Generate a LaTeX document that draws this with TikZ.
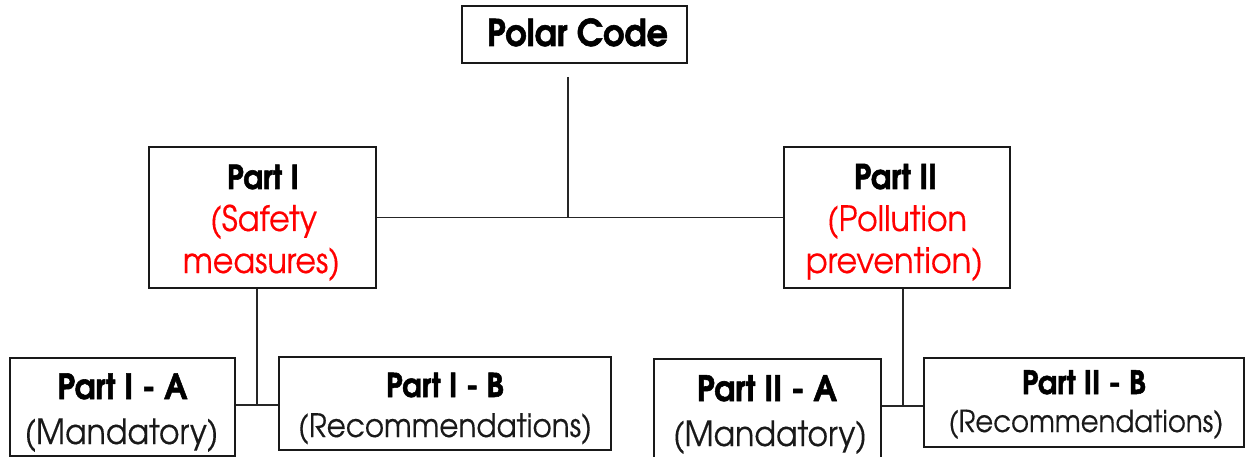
\documentclass[tikz,border=0pt]{standalone}
\usepackage{fontspec}
\setmainfont{texgyreadventor}[Extension=.otf,UprightFont=*-regular,BoldFont=*-bold,ItalicFont=*-italic,BoldItalicFont=*-bolditalic,UprightFeatures={FakeBold=0.4},BoldFeatures={FakeBold=1.6}]
\usepackage{graphicx}
\newcommand\fitto[2]{\resizebox{#1pt}{!}{#2}}
\newcommand\fitup[2]{\scalebox{1}[1.1]{\resizebox{#1pt}{!}{#2}}}
\begin{document}
\begin{tikzpicture}[x=1pt,y=-1pt,
  box/.style={draw=black!90, line width=1.5pt, inner sep=0pt},
  conn/.style={draw=black!85, line width=1.3pt},
  txt/.style={anchor=base, inner sep=0pt},
  hdr/.style={txt, font=\bfseries, text=black},
  sub/.style={txt, text=black!90},
  redsub/.style={txt, text=red}]
\useasboundingbox (0,0) rectangle (1251,457);
% boxes
\node[box, minimum width=225pt, minimum height=57pt]  (polar) at (574.5,34.5) {};
\node[box, minimum width=227pt, minimum height=141pt] (p1)    at (262.5,217.5) {};
\node[box, minimum width=226pt, minimum height=141pt] (p2)    at (897,217.5) {};
\node[box, minimum width=225pt, minimum height=98pt]  (p1a)   at (122.5,407) {};
\node[box, minimum width=332pt, minimum height=93pt]  (p1b)   at (445,403.5) {};
\node[box, minimum width=227pt, minimum height=103pt] (p2a)   at (767.5,410.5) {};
\node[box, minimum width=320pt, minimum height=89pt]  (p2b)   at (1084,402.5) {};
% texts
\node[hdr] (tpolar) at (577.5,46) {\fitup{181}{Polar Code}};
\node[hdr] (tp1) at (263,189) {\fitup{72}{Part I}};
\node[redsub] (tp1b) at (263.5,231) {\fitup{107}{(Safety}};
\node[redsub] (tp1c) at (261.5,273) {\fitup{157}{measures)}};
\node[hdr] (tp2) at (895.5,189) {\fitup{83}{Part II}};
\node[redsub] (tp2b) at (897,231) {\fitup{140}{(Pollution}};
\node[redsub] (tp2c) at (894.5,273) {\fitup{177}{prevention)}};
\node[hdr] (tp1a) at (122.5,399) {\fitup{130}{Part I - A}};
\node[sub] (tp1aa) at (121.5,444) {\fitup{194}{(Mandatory)}};
\node[hdr] (tp1bh) at (445,397) {\fitup{118}{Part I - B}};
\node[sub] (tp1bb) at (445,437) {\fitup{294}{(Recommendations)}};
\node[hdr] (tp2a) at (767,401) {\fitup{140}{Part II - A}};
\node[sub] (tp2aa) at (770,446) {\fitup{194}{(Mandatory)}};
\node[hdr] (tp2bh) at (1084,394) {\fitup{124}{Part II - B}};
\node[sub] (tp2bb) at (1086,432) {\fitup{275}{(Recommendations)}};
% connectors
\coordinate (pstub) at (568,77);
\coordinate (pj) at (568,217.5);
\coordinate (j1) at (257,405);
\coordinate (j2) at (903,406);
\draw[conn] (pstub) -- (pj);
\draw[conn] (p1.east) -- (p2.west);
\draw[conn] (p1.south -| j1) -- (j1);
\draw[conn] (p1a.east |- j1) -- (p1b.west |- j1);
\draw[conn] (p2.south -| j2) -- (j2);
\draw[conn] (p2a.east |- j2) -- (p2b.west |- j2);
\end{tikzpicture}
\end{document}
